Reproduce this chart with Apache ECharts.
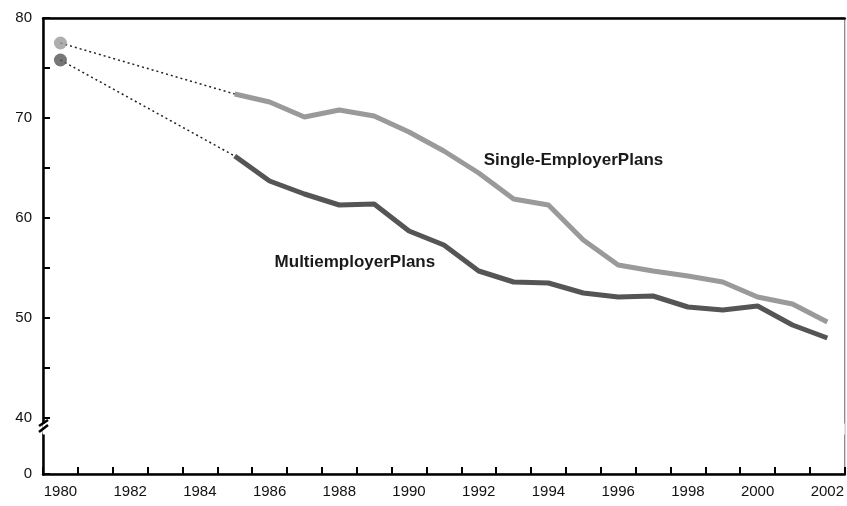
<!DOCTYPE html>
<html>
<head>
<meta charset="utf-8">
<script src="https://cdn.jsdelivr.net/npm/echarts@6/dist/echarts.min.js"></script>
<style>html,body{margin:0;padding:0;background:#fff}#c{width:847px;height:506px}</style>
</head>
<body>
<div id="c"></div>
<script>
const years = ['1980','1981','1982','1983','1984','1985','1986','1987','1988','1989','1990','1991','1992','1993','1994','1995','1996','1997','1998','1999','2000','2001','2002'];
const yearLabels = ['1980','1982','1984','1986','1988','1990','1992','1994','1996','1998','2000','2002'];
// '-' = no data
const singleEmployer = [77.5,'-','-','-','-',72.4,71.6,70.1,70.8,70.2,68.6,66.7,64.5,61.9,61.3,57.8,55.3,54.7,54.2,53.6,52.1,51.4,49.6];
const multiemployer = [75.8,'-','-','-','-',66.2,63.7,62.4,61.3,61.4,58.7,57.3,54.7,53.6,53.5,52.5,52.1,52.2,51.1,50.8,51.2,49.3,48.0];
const yTickLabels = [0,40,50,60,70,80];

const SINGLE_COLOR = '#9a9a9a';
const MULTI_COLOR = '#555555';

function solidPart(arr){ return arr.map((v,i)=> i>=5 ? v : '-'); }
function dottedPart(arr){ return arr.map((v,i)=> (i===0||i===5) ? v : '-'); }
function dotPart(arr){ return arr.map((v,i)=> i===0 ? v : '-'); }

const chart = echarts.init(document.getElementById('c'), null, {renderer:'canvas'});
const font = 'Liberation Sans, Arial, sans-serif';
chart.setOption({
  animation:false,
  backgroundColor:'#fff',
  grid:{left:43,right:2,top:18,bottom:32,show:true,borderColor:'#666',borderWidth:1,backgroundColor:'transparent'},
  xAxis:[{
    type:'category', data:years, boundaryGap:true,
    axisLine:{lineStyle:{color:'#000',width:2.5}},
    axisTick:{show:true,inside:true,length:7,interval:0,lineStyle:{color:'#000',width:2}},
    axisLabel:{color:'#111',fontFamily:font,fontSize:15,margin:10,
      interval:(i,v)=>yearLabels.indexOf(v)>=0},
    splitLine:{show:false}
  },{
    type:'category', data:years, position:'top', boundaryGap:true,
    axisLine:{lineStyle:{color:'#000',width:2.5}},
    axisTick:{show:false}, axisLabel:{show:false}
  }],
  yAxis:{
    type:'value', min:0, max:80,
    breaks:[{start:4,end:39.5,gap:1.1}],
    breakArea:{show:true,expandOnClick:false,zigzagAmplitude:0,zigzagZ:100,
      itemStyle:{color:'#fff',borderColor:'#fff',borderWidth:0,opacity:1}},
    axisLine:{show:true,lineStyle:{color:'#000',width:2.5}},
    axisTick:{show:true,inside:true,length:7,customValues:[0,40,45,50,55,60,65,70,75,80],lineStyle:{color:'#000',width:2}},
    axisLabel:{color:'#111',fontFamily:font,fontSize:15,margin:11,customValues:yTickLabels},
    splitLine:{show:false}
  },
  series:[
    {type:'line',name:'single-dotted',data:dottedPart(singleEmployer),connectNulls:true,symbol:'none',
      lineStyle:{color:'#222',width:1.5,type:[2,3]},z:3},
    {type:'line',name:'multi-dotted',data:dottedPart(multiemployer),connectNulls:true,symbol:'none',
      lineStyle:{color:'#222',width:1.5,type:[2,3]},z:3},
    {type:'line',name:'Single-Employer Plans',data:solidPart(singleEmployer),symbol:'none',
      lineStyle:{color:SINGLE_COLOR,width:5},z:4,
      markPoint:{symbol:'circle',symbolSize:0,silent:true,
        data:[{coord:['1992',65.8],label:{show:true,formatter:'Single-EmployerPlans',position:'right',offset:[0,0],color:'#1a1a1a',fontFamily:font,fontWeight:'bold',fontSize:17}}]}},
    {type:'line',name:'Multiemployer Plans',data:solidPart(multiemployer),symbol:'none',
      lineStyle:{color:MULTI_COLOR,width:5},z:5,
      markPoint:{symbol:'circle',symbolSize:0,silent:true,
        data:[{coord:['1986',55.6],label:{show:true,formatter:'MultiemployerPlans',position:'right',offset:[0,0],color:'#1a1a1a',fontFamily:font,fontWeight:'bold',fontSize:17}}]}},
    {type:'scatter',data:dotPart(singleEmployer),symbol:'circle',symbolSize:13,itemStyle:{color:SINGLE_COLOR},z:6},
    {type:'scatter',data:dotPart(multiemployer),symbol:'circle',symbolSize:13,itemStyle:{color:MULTI_COLOR},z:6}
  ]
});

// break slash marks on left axis
const pTop = chart.convertToPixel({gridIndex:0},[0,39.5]);
const pBot = chart.convertToPixel({gridIndex:0},[0,4]);
const xL = 43;
if (pTop && pBot){
  chart.setOption({graphic:[
    {type:'line',shape:{x1:xL-4,y1:pTop[1]+3,x2:xL+5,y2:pTop[1]-3},style:{stroke:'#000',lineWidth:2.5},z:200},
    {type:'line',shape:{x1:xL-4,y1:pBot[1]-2,x2:xL+5,y2:pBot[1]-9},style:{stroke:'#000',lineWidth:2.5},z:200}
  ]});
}
</script>
</body>
</html>
